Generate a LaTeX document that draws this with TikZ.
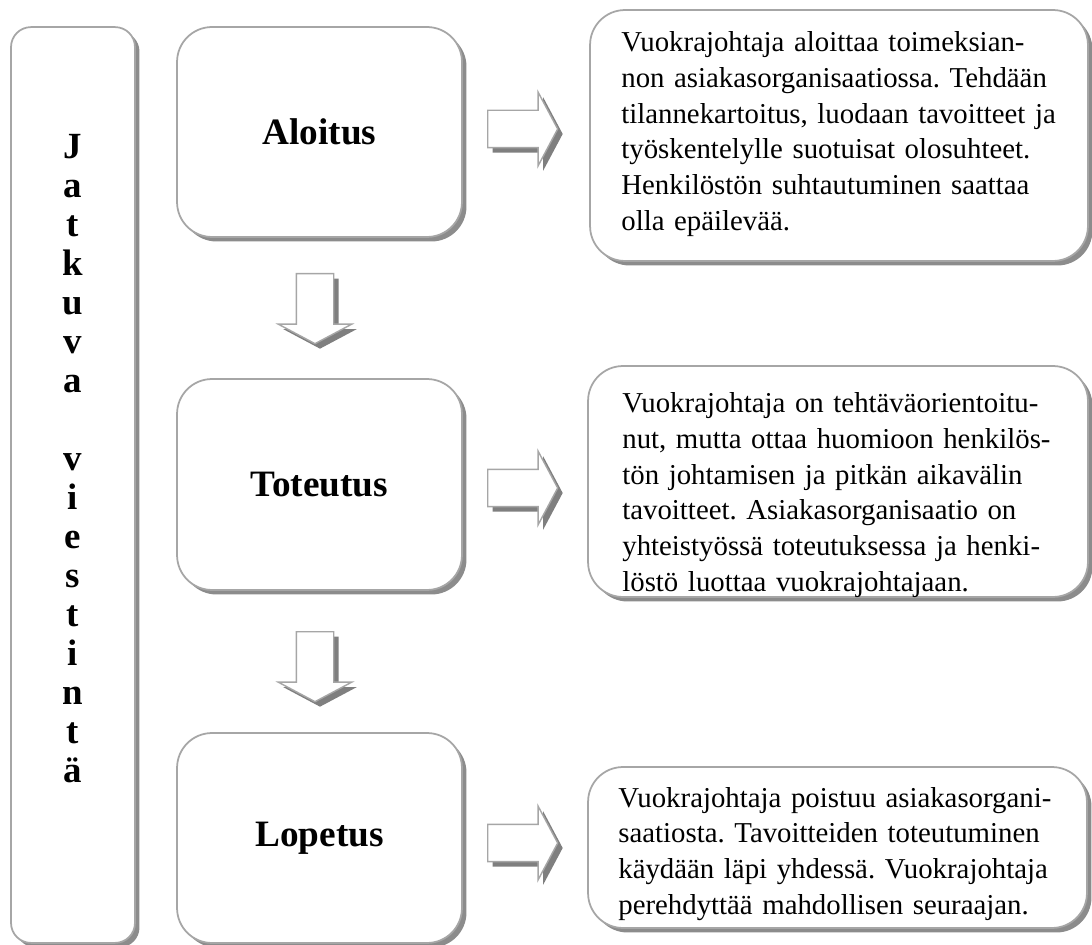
\documentclass[tikz,border=0pt]{standalone}
\usepackage{fontspec}
\setmainfont{Liberation Serif}
\usetikzlibrary{shapes.arrows,shadows}
\frenchspacing

\tikzset{
  phase/.style={draw=black!35, line width=1pt, fill=white, rounded corners=0.7cm,
    drop shadow={shadow xshift=0.09cm, shadow yshift=-0.09cm, fill=black, opacity=0.45},
    font=\fontsize{21.2}{25}\selectfont\bfseries},
  card/.style={phase},
  cardtext/.style={anchor=base west, text width=9.2cm, align=left, inner sep=0pt,
    font=\fontsize{16.4}{20.3}\selectfont},
  blockarrow/.style={single arrow, draw=black!35, line width=0.8pt, fill=white,
    minimum height=1.4cm, single arrow head extend=0.36cm,
    single arrow tip angle=124, inner sep=0.36cm,
    drop shadow={shadow xshift=0.1cm, shadow yshift=-0.1cm, fill=black, opacity=0.5}}
}

\begin{document}
\begin{tikzpicture}[x=0.02cm, y=-0.02cm]
  \useasboundingbox (0,0) rectangle (1092,945);

  % --- Continuous communication column ---
  \node[phase, rounded corners=0.4cm, minimum width=2.48cm, minimum height=18.32cm] (jatkuva) at (73,485) {};
  \node[font=\fontsize{21}{22.2}\selectfont\bfseries, align=center, inner sep=0pt] (viestinta) at (73,459)
    {J\\a\\t\\k\\u\\v\\a\\ \mbox{}\\ v\\i\\e\\s\\t\\i\\n\\t\\ä};

  % --- Phases ---
  \node[phase, minimum width=5.7cm, minimum height=4.2cm] (aloitus) at (319.5,132) {Aloitus};
  \node[phase, minimum width=5.7cm, minimum height=4.22cm] (toteutus) at (319.5,484.5) {Toteutus};
  \node[phase, minimum width=5.7cm, minimum height=4.2cm] (lopetus) at (319.5,838) {Lopetus};

  % --- Descriptions ---
  \node[card, minimum width=9.96cm, minimum height=5.02cm] (kuvaus1) at (839,135.5) {};
  \node[cardtext] (teksti1) at (621,52) {Vuokrajohtaja aloittaa toimeksian-\\
    non asiakasorganisaatiossa. Tehdään\\
    tilannekartoitus, luodaan tavoitteet ja\\
    työskentelylle suotuisat olosuhteet.\\
    Henkilöstön suhtautuminen saattaa\\
    olla epäilevää.};

  \node[card, minimum width=10cm, minimum height=4.62cm] (kuvaus2) at (838,481.5) {};
  \node[cardtext] (teksti2) at (622,413) {Vuokrajohtaja on tehtäväorientoitu-\\
    nut, mutta ottaa huomioon henkilös-\\
    tön johtamisen ja pitkän aikavälin\\
    tavoitteet. Asiakasorganisaatio on\\
    yhteistyössä toteutuksessa ja henki-\\
    löstö luottaa vuokrajohtajaan.};

  \node[card, minimum width=9.98cm, minimum height=3.22cm] (kuvaus3) at (837.5,847.5) {};
  \node[cardtext] (teksti3) at (618,807) {Vuokrajohtaja poistuu asiakasorgani-\\
    saatiosta. Tavoitteiden toteutuminen\\
    käydään läpi yhdessä. Vuokrajohtaja\\
    perehdyttää mahdollisen seuraajan.};

  % --- Block arrows ---
  \node[blockarrow, anchor=tail] (nuoli1) at (487,129) {};
  \node[blockarrow, anchor=tail] (nuoli2) at (487,488) {};
  \node[blockarrow, anchor=tail] (nuoli3) at (487,843) {};
  \node[blockarrow, shape border rotate=270, anchor=tail] (alas1) at (315,273) {};
  \node[blockarrow, shape border rotate=270, anchor=tail] (alas2) at (315,631) {};

\end{tikzpicture}
\end{document}
